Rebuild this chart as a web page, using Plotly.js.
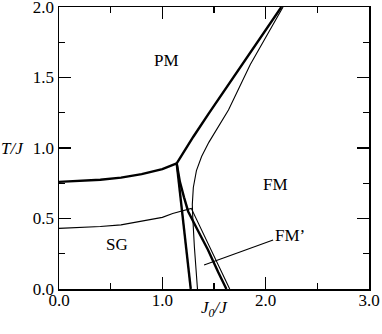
<!DOCTYPE html>
<html>
<head>
<meta charset="utf-8">
<script src="https://cdn.plot.ly/plotly-3.0.1.min.js"></script>
<style>
  html, body { margin: 0; padding: 0; background: #fff; }
  #plot { width: 382px; height: 334px; }
</style>
</head>
<body>
<div id="plot"></div>
<script>
// phase boundaries (x = J0/J, T = T/J)
const sgPmX = [0, 0.2, 0.4, 0.6, 0.8, 1.0, 1.139];
const sgPmT = [0.760, 0.765, 0.775, 0.79, 0.815, 0.85, 0.891];

const pmFmX = [1.139, 1.2, 1.3, 1.45, 1.6, 1.8, 2.0, 2.152];
const pmFmT = [0.891, 0.965, 1.08, 1.245, 1.405, 1.62, 1.835, 2.0];

const sgFmX = [1.139, 1.19, 1.275];
const sgFmT = [0.891, 0.56, 0];

const fmFmpX = [1.139, 1.17, 1.21, 1.25, 1.34, 1.44, 1.54, 1.62];
const fmFmpT = [0.891, 0.76, 0.65, 0.55, 0.42, 0.28, 0.12, 0];

// thin lines (second approximation)
const thinPmFmX = [2.168, 1.85, 1.64, 1.52, 1.45, 1.38, 1.33, 1.30, 1.29, 1.295, 1.31, 1.34];
const thinPmFmT = [2.0, 1.59, 1.27, 1.12, 1.04, 0.94, 0.84, 0.72, 0.6, 0.5, 0.3, 0];

const thinSgX = [0, 0.2, 0.4, 0.6, 0.8, 1.0, 1.1, 1.2, 1.28, 1.652];
const thinSgT = [0.430, 0.434, 0.443, 0.455, 0.48, 0.508, 0.535, 0.555, 0.572, 0];

// pointer line for the FM' label
const pointerX = [1.404, 2.072];
const pointerT = [0.17, 0.348];

const labelText = ['PM', 'SG', 'FM', 'FM\u2019'];
const labelX = [1.036, 0.566, 2.098, 2.238];
const labelT = [1.622, 0.314, 0.740, 0.381];

const xTicks = [0, 1, 2, 3];
const yTicks = [0, 0.5, 1, 1.5, 2];

const SERIF = '"Liberation Serif", "Times New Roman", serif';
const thick = { color: '#000', width: 2.4 };
const thin = { color: '#000', width: 1.1 };

function lineTrace(x, y, line) {
  return { x: x, y: y, mode: 'lines', type: 'scatter', line: line, hoverinfo: 'skip' };
}

const traces = [
  lineTrace(sgPmX, sgPmT, thick),
  lineTrace(pmFmX, pmFmT, thick),
  lineTrace(sgFmX, sgFmT, thick),
  lineTrace(fmFmpX, fmFmpT, thick),
  lineTrace(thinPmFmX, thinPmFmT, thin),
  lineTrace(thinSgX, thinSgT, thin),
  lineTrace(pointerX, pointerT, thin)
];

const annotations = labelText.map((t, i) => ({
  text: t, x: labelX[i], y: labelT[i], xref: 'x', yref: 'y',
  showarrow: false, xanchor: 'center', yanchor: 'middle',
  font: { family: SERIF, size: 17, color: '#000' }
}));

// axis titles as annotations: T/J is horizontal in the original
annotations.push({
  text: '<i>T/J</i>', x: -0.151, y: 1.0, xref: 'paper', yref: 'y',
  showarrow: false, xanchor: 'center', yanchor: 'middle',
  font: { family: SERIF, size: 17, color: '#000' }
});
annotations.push({
  text: '<i>J</i><sub><i>0</i></sub><i>/J</i>', x: 0.5, y: -0.072, xref: 'paper', yref: 'paper',
  showarrow: false, xanchor: 'center', yanchor: 'middle',
  font: { family: SERIF, size: 17, color: '#000' }
});

function axis(range, vals, minorStep, extra) {
  return Object.assign({
    range: range,
    showgrid: false,
    zeroline: false,
    showline: true,
    linecolor: '#000',
    linewidth: 1.5,
    mirror: 'ticks',
    ticks: 'inside',
    ticklen: 12,
    tickwidth: 1.2,
    tickcolor: '#000',
    tickmode: 'array',
    tickvals: vals,
    ticktext: vals.map(v => v.toFixed(1)),
    ticklabeloverflow: 'allow',
    tickfont: { family: SERIF, size: 17, color: '#000' },
    minor: { dtick: minorStep, tick0: 0, ticks: 'inside', ticklen: 6, tickwidth: 1.2, tickcolor: '#000' }
  }, extra || {});
}

const layout = {
  width: 382,
  height: 334,
  margin: { l: 59, r: 13, t: 7, b: 45 },
  paper_bgcolor: '#fff',
  plot_bgcolor: '#fff',
  showlegend: false,
  font: { family: SERIF, color: '#000', size: 17 },
  xaxis: axis([0, 3], xTicks, 0.5, { ticklabelstandoff: -5 }),
  yaxis: axis([0, 2], yTicks, 0.25, { ticklabelstandoff: 0 }),
  // unlabeled copies on top and right for the mirrored minor ticks
  xaxis2: axis([0, 3], xTicks, 0.5, { overlaying: 'x', side: 'top', anchor: 'y', showticklabels: false }),
  yaxis2: axis([0, 2], yTicks, 0.25, { overlaying: 'y', side: 'right', anchor: 'x', showticklabels: false }),
  annotations: annotations
};

// invisible trace so the overlay axes get drawn
traces.push({ x: [0], y: [0], xaxis: 'x2', yaxis: 'y2', mode: 'markers', marker: { opacity: 0 }, hoverinfo: 'skip' });

Plotly.newPlot('plot', traces, layout, { displayModeBar: false, staticPlot: true });
</script>
</body>
</html>
